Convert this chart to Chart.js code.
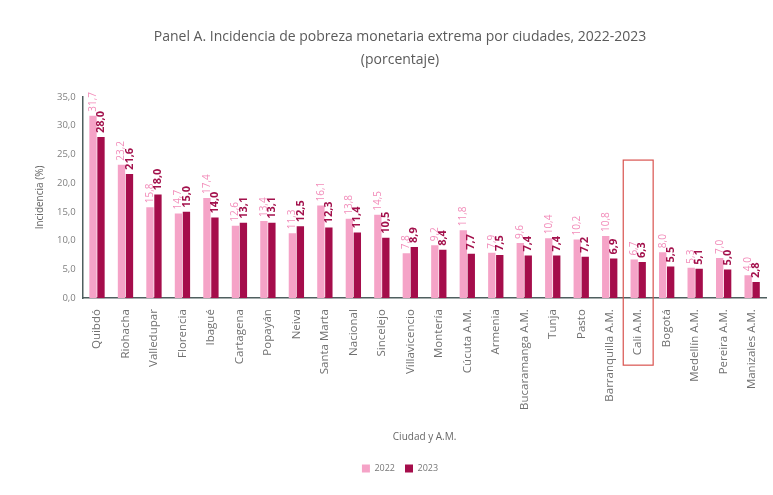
<!DOCTYPE html>
<html>
<head>
<meta charset="utf-8">
<script src="https://cdn.jsdelivr.net/npm/chart.js@4/dist/chart.umd.min.js"></script>
<style>
  html, body { margin: 0; padding: 0; background: #fff; }
  #wrap { width: 773px; height: 495px; }
</style>
</head>
<body>
<div id="wrap"><canvas id="chart"></canvas></div>
<script>
var cities = ['Quibdó', 'Riohacha', 'Valledupar', 'Florencia', 'Ibagué', 'Cartagena', 'Popayán', 'Neiva',
  'Santa Marta', 'Nacional', 'Sincelejo', 'Villavicencio', 'Montería', 'Cúcuta A.M.', 'Armenia',
  'Bucaramanga A.M.', 'Tunja', 'Pasto', 'Barranquilla A.M.', 'Cali A.M.', 'Bogotá', 'Medellín A.M.',
  'Pereira A.M.', 'Manizales A.M.']
var values2022 = [31.7, 23.2, 15.8, 14.7, 17.4, 12.6, 13.4, 11.3, 16.1, 13.8, 14.5, 7.8, 9.2, 11.8, 7.9,
  9.6, 10.4, 10.2, 10.8, 6.7, 8.0, 5.3, 7.0, 4.0]
var values2023 = [28.0, 21.6, 18.0, 15.0, 14.0, 13.1, 13.1, 12.5, 12.3, 11.4, 10.5, 8.9, 8.4, 7.7, 7.5,
  7.4, 7.4, 7.2, 6.9, 6.3, 5.5, 5.1, 5.0, 2.8]
var seriesNames = ['2022', '2023']
var highlightCity = 'Cali A.M.'

function fmt (v) {
  return v.toFixed(1).replace('.', ',')
}

// rotated value labels above each bar
var barLabels = {
  id: 'barLabels',
  afterDatasetsDraw: function (chart) {
    var ctx = chart.ctx
    chart.data.datasets.forEach(function (ds, i) {
      var meta = chart.getDatasetMeta(i)
      meta.data.forEach(function (bar, j) {
        ctx.save()
        ctx.translate(bar.x, bar.y - 4)
        ctx.rotate(-Math.PI / 2)
        ctx.textAlign = 'left'
        ctx.textBaseline = 'middle'
        if (i === 0) {
          ctx.font = '10px "Open Sans"'
          ctx.fillStyle = '#F28DBA'
        } else {
          ctx.font = 'bold 11px "Open Sans"'
          ctx.fillStyle = '#A3114C'
        }
        ctx.fillText(fmt(ds.data[j]), 0, 0)
        ctx.restore()
      })
    })
  }
}

// red frame around the highlighted city
var highlightBox = {
  id: 'highlightBox',
  afterDraw: function (chart) {
    var x = chart.scales.x
    var y = chart.scales.y
    var idx = cities.indexOf(highlightCity)
    var cx = x.getPixelForValue(idx)
    var w = (x.getPixelForValue(1) - x.getPixelForValue(0)) * 1.05
    var top = y.getPixelForValue(24)
    var bottom = chart.chartArea.bottom + 67
    var ctx = chart.ctx
    ctx.save()
    ctx.strokeStyle = '#D9534F'
    ctx.lineWidth = 1.2
    ctx.strokeRect(cx - w / 2, top, w, bottom - top)
    ctx.restore()
  }
}

new Chart(document.getElementById('chart'), {
  type: 'bar',
  data: {
    labels: cities,
    datasets: [
      { label: seriesNames[0], data: values2022, backgroundColor: '#F5A3C7' },
      { label: seriesNames[1], data: values2023, backgroundColor: '#A50D4B' }
    ]
  },
  options: {
    responsive: true,
    maintainAspectRatio: false,
    animation: false,
    layout: { padding: { left: 30, right: 3, bottom: 12 } },
    datasets: { bar: { categoryPercentage: 0.56, barPercentage: 0.92 } },
    scales: {
      x: {
        grid: { display: false, drawTicks: true, tickLength: 4, tickColor: '#5b6b6b' },
        border: { color: '#4f5f5f', width: 1.5 },
        ticks: {
          color: '#707070', font: { family: 'Open Sans', size: 11.5 },
          maxRotation: 90, minRotation: 90, autoSkip: false, padding: 7
        },
        title: {
          display: true, text: 'Ciudad y A.M.', color: '#666',
          font: { family: 'Open Sans', size: 10 }, padding: { top: 14, bottom: 11 }
        }
      },
      y: {
        min: 0, max: 35,
        grid: { display: false, drawTicks: true, tickLength: 4, tickColor: '#5b6b6b' },
        border: { color: '#4f5f5f', width: 1.5 },
        ticks: {
          stepSize: 5, color: '#808080', font: { family: 'Open Sans', size: 9.5 },
          callback: function (v) { return fmt(v) }
        },
        title: {
          display: true, text: 'Incidencia (%)', color: '#666',
          font: { family: 'Open Sans', size: 10 }, padding: { bottom: 8 }
        }
      }
    },
    plugins: {
      title: {
        display: true,
        text: ['Panel A. Incidencia de pobreza monetaria extrema por ciudades, 2022-2023', '(porcentaje)'],
        color: '#5a5a5a',
        font: { family: 'Open Sans', size: 14, weight: 'normal', lineHeight: 1.6 },
        padding: { top: 26, bottom: 26 }
      },
      legend: {
        position: 'bottom',
        labels: {
          boxWidth: 8, boxHeight: 8, color: '#777',
          font: { family: 'Open Sans', size: 9 }, padding: 10
        }
      },
      tooltip: { enabled: false }
    }
  },
  plugins: [barLabels, highlightBox]
})
</script>
</body>
</html>
